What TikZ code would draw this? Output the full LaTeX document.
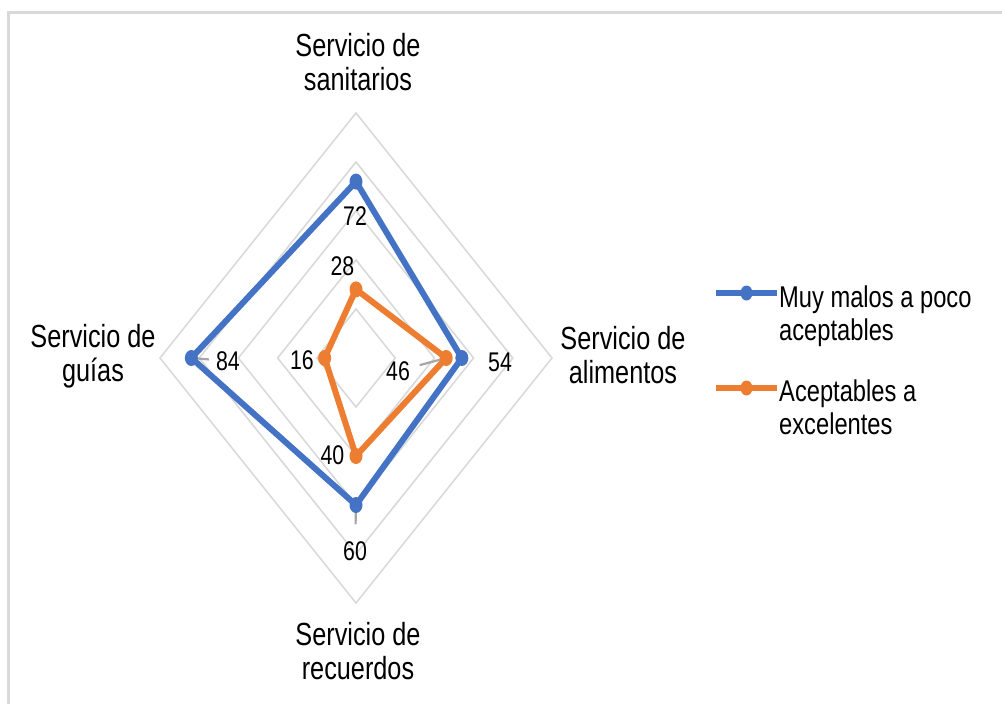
\documentclass[tikz,border=0pt]{standalone}
\usepackage{fontspec}
\setmainfont{Liberation Sans}[FakeStretch=0.79]
\usetikzlibrary{calc}

\definecolor{serblue}{HTML}{4472C4}
\definecolor{serorange}{HTML}{ED7D31}
\definecolor{gridgray}{HTML}{D9D9D9}
\definecolor{leadgray}{HTML}{A6A6A6}

\tikzset{
		ring/.style={draw=gridgray, line width=1.6pt},
		serieA/.style={draw=serblue, line width=6pt, line join=round},
		serieB/.style={draw=serorange, line width=6pt, line join=round},
		dotA/.style={fill=serblue},
		dotB/.style={fill=serorange},
		leader/.style={draw=leadgray, line width=2.2pt},
		axlab/.style={align=center, inner sep=0pt, font=\fontsize{32}{34}\selectfont},
		val/.style={inner sep=0pt, font=\fontsize{27}{32}\selectfont},
		leglab/.style={align=left, anchor=west, inner sep=0pt, font=\fontsize{30}{33}\selectfont}
	}

\begin{document}
\begin{tikzpicture}[x=1pt, y=-1pt]
	
	\useasboundingbox (0,0) rectangle (1002,704);
	\fill[white] (0,0) rectangle (1002,704);
	\draw[gridgray, line width=3pt] (8,704) -- (8,12) -- (1002,12);
	
	% rings at 20, 40, 60, 80, 100
	\foreach \r in {0.2,0.4,0.6,0.8,1}
		\draw[ring] (356,{358-245*\r}) -- ({356+196*\r},358) -- (356,{358+245*\r}) -- ({356-196*\r},358) -- cycle;
	
	\coordinate (bT) at (356,{358-0.72*245});
	\coordinate (bR) at ({356+0.54*196},358);
	\coordinate (bB) at (356,{358+0.60*245});
	\coordinate (bL) at ({356-0.84*196},358);
	
	\coordinate (oT) at (356,{358-0.28*245});
	\coordinate (oR) at ({356+0.46*196},358);
	\coordinate (oB) at (356,{358+0.40*245});
	\coordinate (oL) at ({356-0.16*196},358);
	
	\draw[serieA] (bT) -- (bR) -- (bB) -- (bL) -- cycle;
	\draw[serieB] (oT) -- (oR) -- (oB) -- (oL) -- cycle;
	
	\node (v72) at (355,216) [val] {72};
	\node (v54) at (500,362) [val] {54};
	\node (v60) at (355,551) [val] {60};
	\node (v84) at (228,361) [val] {84};
	\node (v28) at (342.5,266) [val] {28};
	\node (v46) at (398,371) [val] {46};
	\node (v40) at (332.5,455) [val] {40};
	\node (v16) at (302,360) [val] {16};
	
	\draw[leader, shorten >=7pt] (bL) -- (v84);
	\draw[leader, shorten >=10pt] (oR) -- (v46);
	\draw[leader, shorten >=17pt] (bB) -- (v60);
	
	\foreach \p in {bT,bR,bB,bL}
		\fill[dotA] (\p) ellipse [x radius=6.5pt, y radius=8pt];
	\foreach \p in {oT,oR,oB,oL}
		\fill[dotB] (\p) ellipse [x radius=6.5pt, y radius=8pt];
	
	\node (sanit) at (358,62) [axlab] {Servicio de\\sanitarios};
	\node (alim) at (623,355.5) [axlab] {Servicio de\\alimentos};
	\node (recu) at (358,651.5) [axlab] {Servicio de\\recuerdos};
	\node (guias) at (93,356) [axlab] {Servicio de\\guías};
	
	% legend
	\coordinate (kA1) at (716,293);
	\coordinate (kA2) at (777,293);
	\draw[serieA] (kA1) -- (kA2);
	\fill[dotA] ($(kA1)!0.5!(kA2)$) ellipse [x radius=6pt, y radius=7.5pt];
	\node (legA) at (779,316) [leglab] {Muy malos a poco\\aceptables};
	
	\coordinate (kB1) at (716,388);
	\coordinate (kB2) at (777,388);
	\draw[serieB] (kB1) -- (kB2);
	\fill[dotB] ($(kB1)!0.5!(kB2)$) ellipse [x radius=6pt, y radius=7.5pt];
	\node (legB) at (779,407.5) [leglab] {Aceptables a\\excelentes};
	
\end{tikzpicture}
\end{document}
